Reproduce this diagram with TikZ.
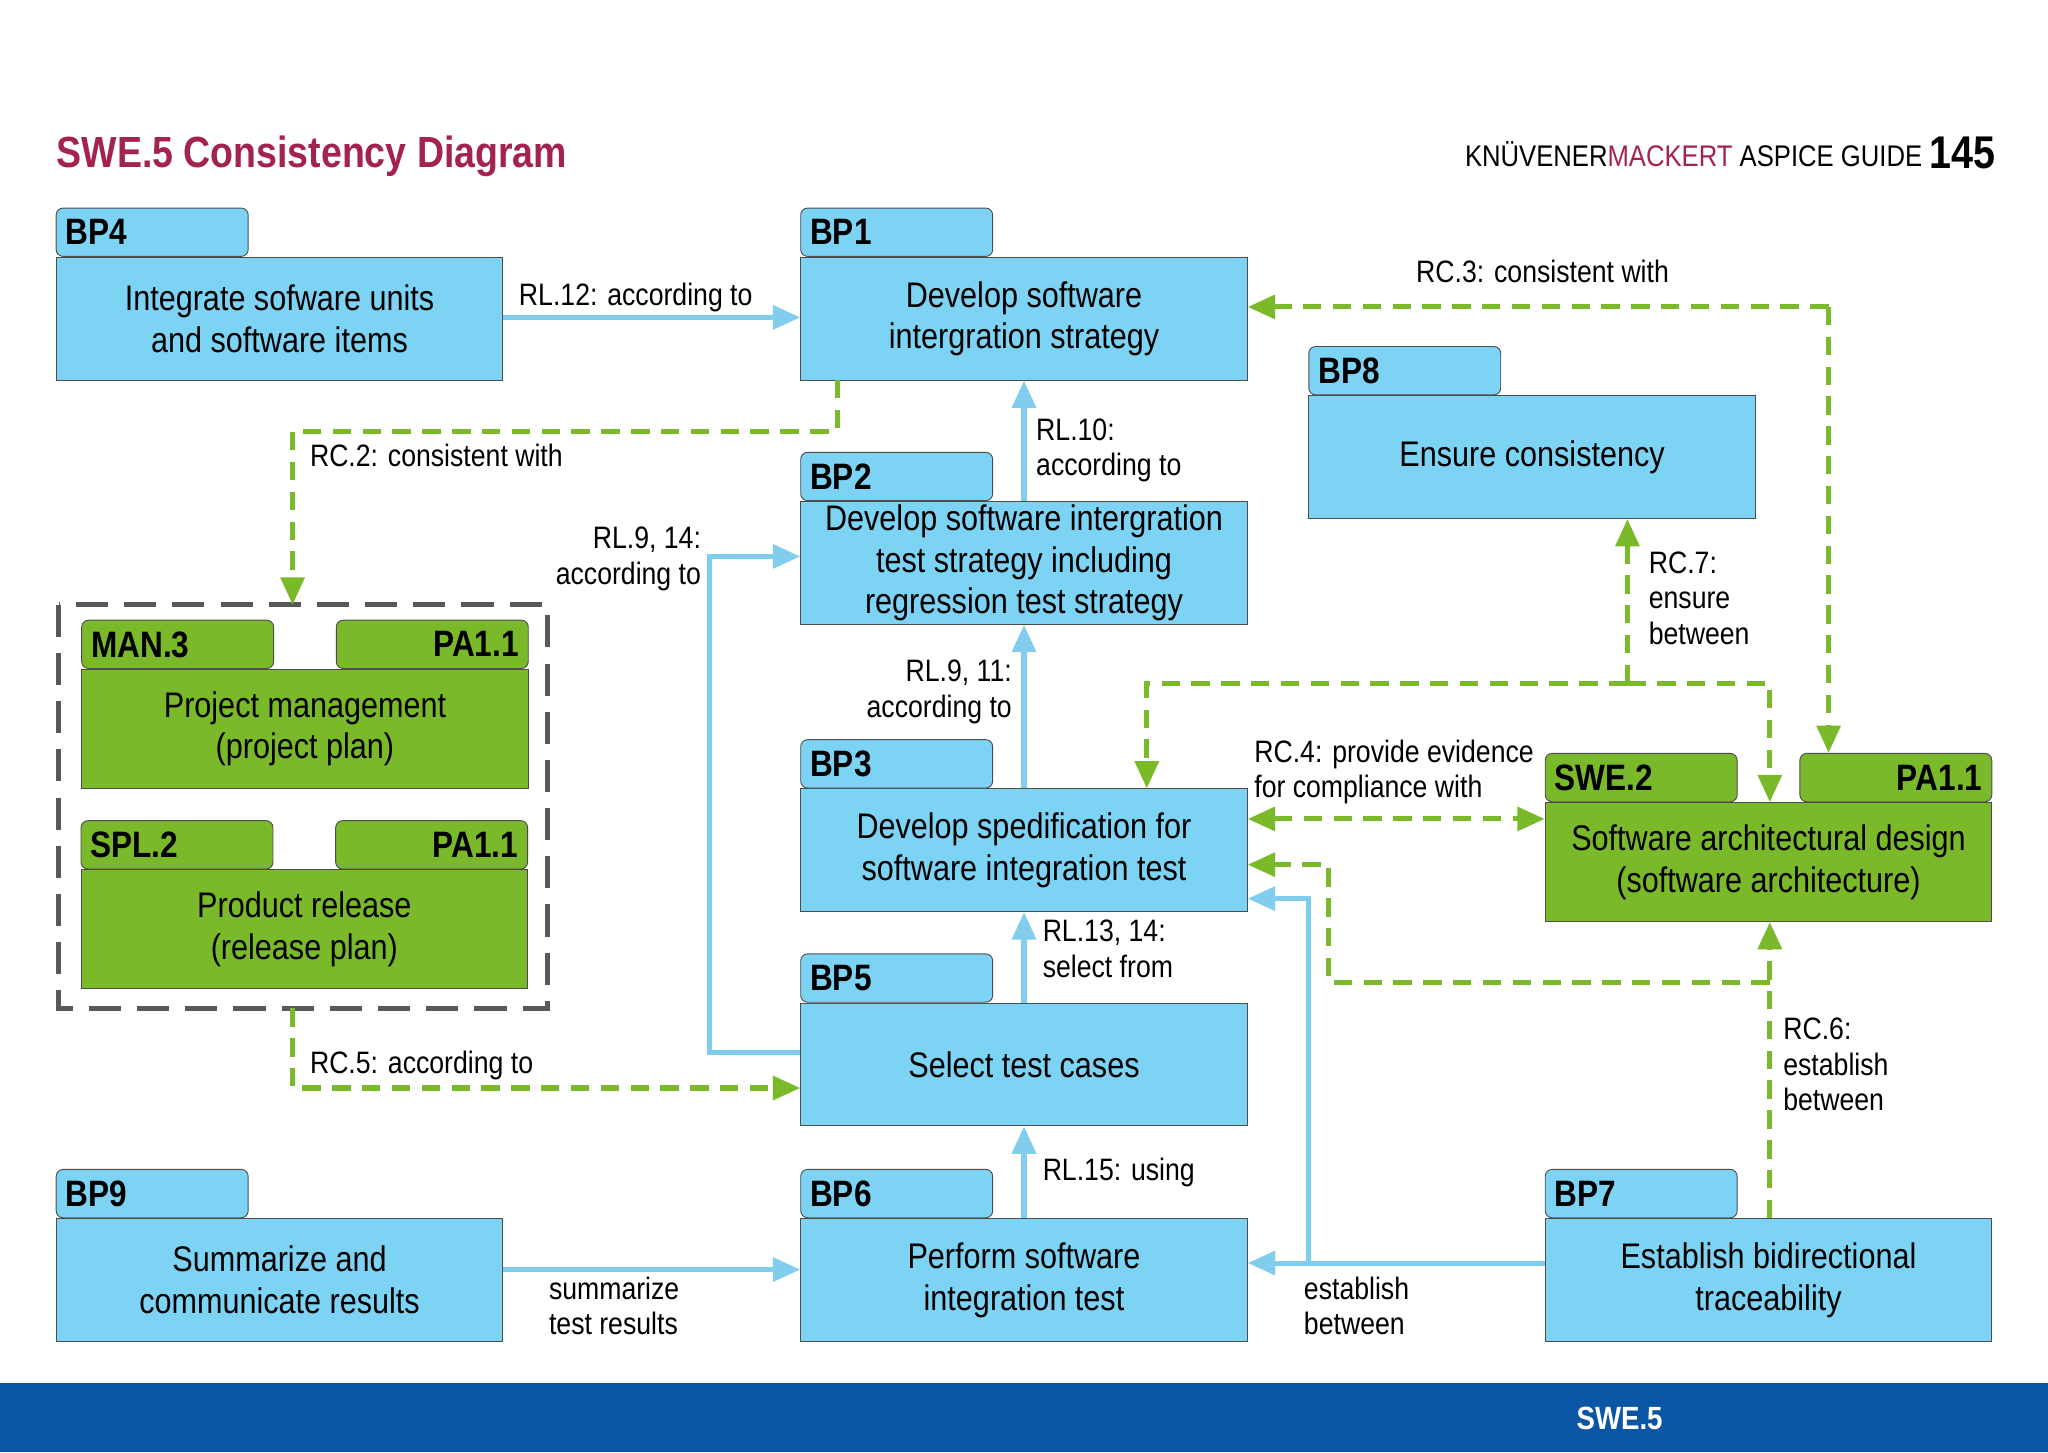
\documentclass[tikz,border=0pt]{standalone}
\usepackage{fontspec}
\setmainfont{Liberation Sans}[FakeStretch=0.86]
\usetikzlibrary{arrows.meta,positioning}
\definecolor{swblue}{HTML}{7DD3F4}
\definecolor{swgreen}{HTML}{7AB929}
\definecolor{lnblue}{HTML}{80CDEE}
\definecolor{lngreen}{HTML}{7AB929}
\definecolor{titlered}{HTML}{A3234D}
\definecolor{barblue}{HTML}{0A56A5}
\begin{document}
\begin{tikzpicture}[
    x=0.02cm, y=-0.02cm,
    font=\fontsize{15.5}{18.2}\selectfont,
    box/.style={draw=black!70, fill=swblue, minimum width=6.84cm, minimum height=1.88cm, align=center, inner sep=1pt},
    gbox/.style={box, fill=swgreen, minimum height=1.82cm},
    tab/.style={draw=black!70, fill=swblue, rounded corners=3pt, minimum width=2.94cm, minimum height=0.74cm, inner sep=4pt, text depth=0pt, font=\fontsize{16}{18}\selectfont\bfseries},
    gtab/.style={tab, fill=swgreen},
    lbl/.style={font=\fontsize{13.5}{15.5}\selectfont, align=left, inner sep=0pt},
    flow/.style={draw=lnblue, line width=2.2pt, -{Triangle[length=0.42cm,width=0.36cm]}},
    rc/.style={draw=lngreen, line width=2.2pt, dash pattern=on 8pt off 5pt, -{Triangle[length=0.42cm,width=0.36cm]}}
]
\useasboundingbox (0,0) rectangle (1568,1112);

% header and footer
\node[anchor=west, text=titlered, font=\fontsize{19}{22}\selectfont\bfseries, inner sep=0pt] (title) at (43,120) {SWE.5 Consistency Diagram};
\node[anchor=east, font=\fontsize{13}{15}\selectfont, inner sep=0pt] (guide) at (1472,118) {KNÜVENER\textcolor{titlered}{MACKERT} ASPICE GUIDE};
\node[anchor=west, font=\fontsize{20}{22}\selectfont\bfseries, inner sep=0pt] (page) at (1477,117) {145};
\fill[barblue] (0,1059) rectangle (1568,1112);
\node[text=white, font=\fontsize{14}{16}\selectfont\bfseries] (foot) at (1240,1086) {SWE.5};

% base practices
\node[box] (bp4) at (214,244) {Integrate sofware units\\and software items};
\node[tab, anchor=south west, text width=2.65cm] (bp4t) at (bp4.north west) {BP4};
\node[box] (bp1) at (784,244) {Develop software\\intergration strategy};
\node[tab, anchor=south west, text width=2.65cm] (bp1t) at (bp1.north west) {BP1};
\node[box] (bp8) at (1173,350) {Ensure consistency};
\node[tab, anchor=south west, text width=2.65cm] (bp8t) at (bp8.north west) {BP8};
\node[box] (bp2) at (784,431) {Develop software intergration\\test strategy including\\regression test strategy};
\node[tab, anchor=south west, text width=2.65cm] (bp2t) at (bp2.north west) {BP2};
\node[box] (bp3) at (784,651) {Develop spedification for\\software integration test};
\node[tab, anchor=south west, text width=2.65cm] (bp3t) at (bp3.north west) {BP3};
\node[box] (bp5) at (784,815) {Select test cases};
\node[tab, anchor=south west, text width=2.65cm] (bp5t) at (bp5.north west) {BP5};
\node[box] (bp9) at (214,980) {Summarize and\\communicate results};
\node[tab, anchor=south west, text width=2.65cm] (bp9t) at (bp9.north west) {BP9};
\node[box] (bp6) at (784,980) {Perform software\\integration test};
\node[tab, anchor=south west, text width=2.65cm] (bp6t) at (bp6.north west) {BP6};
\node[box] (bp7) at (1354,980) {Establish bidirectional\\traceability};
\node[tab, anchor=south west, text width=2.65cm] (bp7t) at (bp7.north west) {BP7};

% other processes
\node[gbox] (man3) at (233.5,558) {Project management\\(project plan)};
\node[gtab, anchor=south west, text width=2.65cm] (man3t) at (man3.north west) {MAN.3};
\node[gtab, anchor=south east, text width=2.65cm, align=right] (man3p) at (man3.north east) {PA1.1};
\node[gbox] (spl2) at (233,711.5) {Product release\\(release plan)};
\node[gtab, anchor=south west, text width=2.65cm] (spl2t) at (spl2.north west) {SPL.2};
\node[gtab, anchor=south east, text width=2.65cm, align=right] (spl2p) at (spl2.north east) {PA1.1};
\node[gbox] (swe2) at (1354,660) {Software architectural design\\(software architecture)};
\node[gtab, anchor=south west, text width=2.65cm] (swe2t) at (swe2.north west) {SWE.2};
\node[gtab, anchor=south east, text width=2.65cm, align=right] (swe2p) at (swe2.north east) {PA1.1};
\draw[black!65, line width=2.2pt, dash pattern=on 14pt off 7pt] (45,463) rectangle (419,772);
\coordinate (grpN) at (224,463);
\coordinate (grpS) at (224,772);

% rules
\draw[flow] (bp4.east |- 0,243) -- (bp1.west |- 0,243);
\node[lbl, anchor=west] (rl12) at (397,228) {RL.12: according to};
\draw[flow] (bp2.north) -- (bp1.south);
\node[lbl, anchor=north west] (rl10) at (793,320) {RL.10:\\according to};
\draw[flow] (bp3.north) -- (bp2.south);
\node[lbl, anchor=north east, align=right] (rl911) at (775,505) {RL.9, 11:\\according to};
\draw[flow] (bp5.north) -- (bp3.south);
\node[lbl, anchor=north west] (rl1314) at (798,704) {RL.13, 14:\\select from};
\draw[flow] (bp6.north) -- (bp5.south);
\node[lbl, anchor=west] (rl15) at (798,898) {RL.15: using};
\draw[flow] (bp5.west |- 0,806) -- (543,806) -- (543,426) -- (bp2.west |- 0,426);
\node[lbl, anchor=north east, align=right] (rl914) at (537,403) {RL.9, 14:\\according to};
\draw[flow] (bp9.east |- 0,972) -- (bp6.west |- 0,972);
\node[lbl, anchor=north west] (sum) at (420,977) {summarize\\test results};
\draw[flow] (bp7.west |- 0,967) -- (bp6.east |- 0,967);
\draw[flow] (1002,967) -- (1002,688) -- (bp3.east |- 0,688);
\node[lbl, anchor=north west] (est) at (998,977) {establish\\between};

% consistency
\draw[rc] (641,291) -- (641,330) -- (224,330) -- (grpN);
\node[lbl, anchor=west] (rc2) at (237,349) {RC.2: consistent with};
\draw[rc] (1400,235) -- (bp1.east |- 0,235);
\node[lbl, anchor=center] (rc3) at (1181,208) {RC.3: consistent with};
\draw[rc] (1400,235) -- (swe2p.north -| 1400,0);
\draw[rc] (1246,523) -- (bp8.south -| 1246,0);
\node[lbl, anchor=north west] (rc7) at (1262,422) {RC.7:\\ensure\\between};
\draw[rc] (1246,523) -- (878,523) -- (bp3.north -| 878,0);
\draw[rc] (1246,523) -- (1355,523) -- (swe2.north -| 1355,0);
\draw[rc, {Triangle[length=0.42cm,width=0.36cm]}-{Triangle[length=0.42cm,width=0.36cm]}] (bp3.east |- 0,627) -- (swe2.west |- 0,627);
\node[lbl, anchor=south west] (rc4) at (960,616) {RC.4: provide evidence\\for compliance with};
\draw[rc] (bp7.north -| 1355,0) -- (swe2.south -| 1355,0);
\node[lbl, anchor=north west] (rc6) at (1365,779) {RC.6:\\establish\\between};
\draw[rc] (1355,752) -- (1017,752) -- (1017,662) -- (bp3.east |- 0,662);
\draw[rc] (grpS) -- (224,833) -- (bp5.west |- 0,833);
\node[lbl, anchor=west] (rc5) at (237,816) {RC.5: according to};
\end{tikzpicture}
\end{document}
